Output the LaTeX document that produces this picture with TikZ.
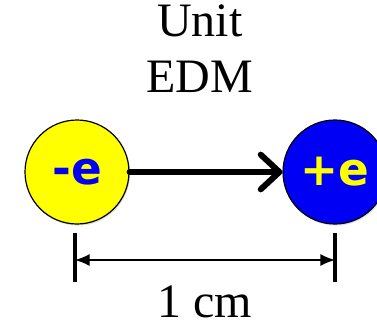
\documentclass[tikz,border=0pt]{standalone}
\usepackage{fontspec}
\setmainfont{Liberation Serif}
\newfontfamily\chargefont{DejaVu Sans}
\usetikzlibrary{arrows.meta,positioning,shadows}
\definecolor{chargeyellow}{HTML}{FFFF00}
\definecolor{chargeblue}{HTML}{0000F5}
\tikzset{
  chargecircle/.style={draw=black,circle,line width=0.9pt,minimum size=78pt,
    inner sep=0pt,font=\chargefont\bfseries\fontsize{34}{34}\selectfont,
    drop shadow={opacity=0.25,shadow xshift=0.8pt,shadow yshift=-1.2pt}},
  edmarrow/.style={draw=black,line width=4.5pt,line cap=round,
    -{Straight Barb[length=14pt,width=26pt,round]}},
  dimarrow/.style={draw=black,line width=1pt,{Latex[length=11pt,width=9pt]}-{Latex[length=11pt,width=9pt]}},
  dimtick/.style={draw=black,line width=3pt},
  labeltext/.style={font=\fontsize{36}{42}\selectfont,align=center},
}
\begin{document}
\begin{tikzpicture}[x=0.75pt,y=-0.75pt]
  \path[use as bounding box] (0,0) rectangle (377,326);
  % title
  \node[labeltext,anchor=base] (title) at (200,92) {Unit\\EDM};
  % the two charges
  \node[chargecircle,fill=chargeyellow,text=chargeblue] (neg) at (77,172) {-e};
  \node[chargecircle,fill=chargeblue,text=chargeyellow] (pos) at (335,172) {+e};
  \draw[edmarrow] (neg) -- (pos);
  % separation
  \coordinate (tickLtop) at (75,233);
  \coordinate (tickLbot) at (75,282);
  \coordinate (tickRtop) at (335,233);
  \coordinate (tickRbot) at (335,282);
  \coordinate (dimL) at (75,260);
  \coordinate (dimR) at (335,260);
  \draw[dimtick] (tickLtop) -- (tickLbot);
  \draw[dimtick] (tickRtop) -- (tickRbot);
  \draw[dimarrow] (dimL) -- (dimR);
  \node[labeltext,anchor=base] (sep) at (205,317) {1 cm};
\end{tikzpicture}
\end{document}
